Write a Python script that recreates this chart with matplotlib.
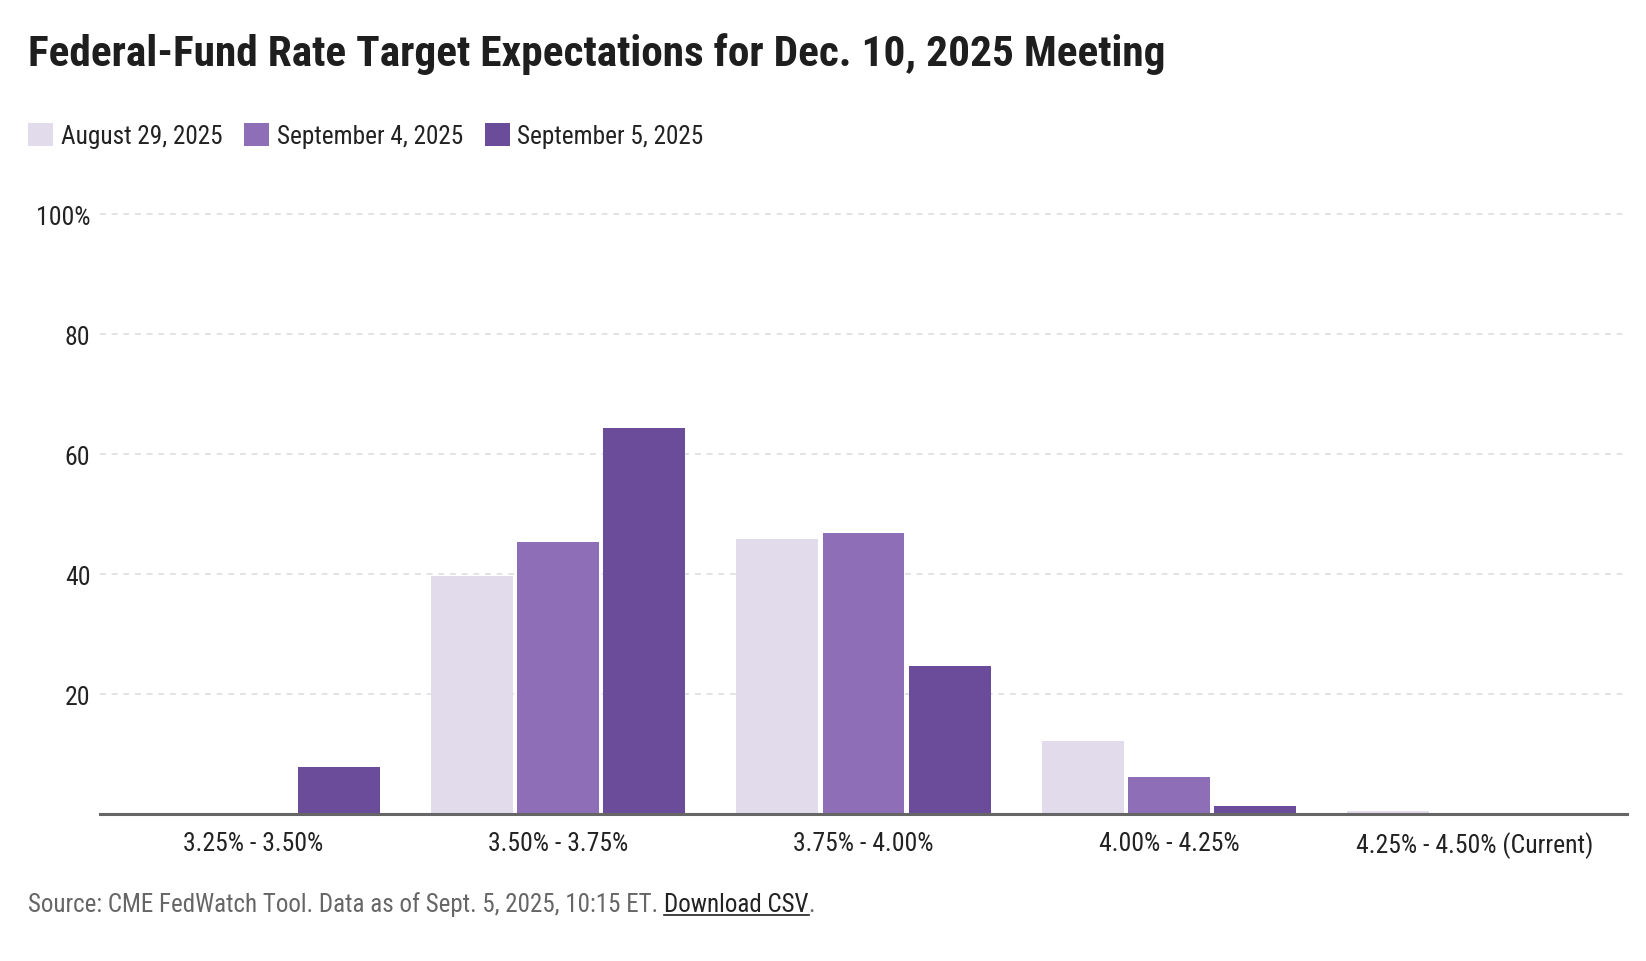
import numpy as np
import matplotlib
matplotlib.use("Agg")
import matplotlib.pyplot as plt
from matplotlib import font_manager
from matplotlib.lines import Line2D
from matplotlib.patches import Patch

# data
categories = ["3.25% - 3.50%", "3.50% - 3.75%", "3.75% - 4.00%",
              "4.00% - 4.25%", "4.25% - 4.50% (Current)"]
aug_29 = [0.0, 39.7, 45.9, 12.2, 0.5]
sep_4 = [0.0, 45.3, 46.9, 6.2, 0.0]
sep_5 = [7.9, 64.3, 24.6, 1.4, 0.0]
series_labels = ["August 29, 2025", "September 4, 2025", "September 5, 2025"]
series_colors = ["#e1dbeb", "#8e6eb7", "#6b4c9b"]
y_ticks = [20, 40, 60, 80, 100]
y_tick_labels = ["20", "40", "60", "80", "100%"]

W, H = 1646, 962


def pick_font():
    """
    Looks for a condensed sans family, falls back to DejaVu Sans
    """
    names = {f.name for f in font_manager.fontManager.ttflist}
    for name in ["Roboto Condensed", "Liberation Sans Narrow",
                 "Open Sans Condensed", "Noto Sans Condensed",
                 "DejaVu Sans Condensed"]:
        if name in names:
            return name, "normal"
    for name in sorted(names):
        if "Condensed" in name or "Narrow" in name:
            return name, "normal"
    return "DejaVu Sans", "condensed"


family, stretch = pick_font()
plt.rcParams["font.family"] = [family, "DejaVu Sans"]
plt.rcParams["font.stretch"] = stretch

fig = plt.figure(figsize=(W / 100, H / 100), dpi=100)
ax = fig.add_axes([100 / W, 1 - 815 / H, 1527 / W, (815 - 213) / H])

x = np.arange(len(categories))
step = 0.282
width = 0.268
all_series = [aug_29, sep_4, sep_5]
for i, (vals, col) in enumerate(zip(all_series, series_colors)):
    ax.bar(x + (i - 1) * step, vals, width=width, color=col, zorder=3)

ax.set_xlim(-0.5, len(categories) - 0.5)
ax.set_ylim(0, 100.4)
ax.set_yticks(y_ticks)
ax.set_yticklabels(y_tick_labels)
ax.set_xticks(x)
ax.set_xticklabels(categories)
ax.tick_params(axis="both", length=0, labelsize=18.5, colors="#222222")
ax.tick_params(axis="y", pad=7)
ax.tick_params(axis="x", pad=12)

ax.yaxis.grid(True, color="#e3e3e3", linewidth=1.4, linestyle=(0, (3, 3)),
              zorder=0)
for side in ["top", "right", "left"]:
    ax.spines[side].set_visible(False)
ax.spines["bottom"].set_color("#666666")
ax.spines["bottom"].set_linewidth(2.2)
ax.spines["bottom"].set_zorder(4)

# title
fig.text(28 / W, 1 - 54 / H,
         "Federal-Fund Rate Target Expectations for Dec. 10, 2025 Meeting",
         fontsize=31.2, fontweight="bold", color="#1e1e1e", va="center")

# legend
handles = [Patch(facecolor=c, edgecolor="none") for c in series_colors]
fig.legend(handles, series_labels, loc="upper left",
           bbox_to_anchor=(28 / W, 1 - 124 / H), ncol=3, frameon=False,
           fontsize=18.2, handlelength=1.0, handleheight=1.0,
           handletextpad=0.3, columnspacing=0.85, borderpad=0,
           borderaxespad=0, labelcolor="#222222")

# source line with underlined link
renderer = fig.canvas.get_renderer()
y_src = 1 - 905 / H
src = fig.text(28 / W, y_src,
               "Source: CME FedWatch Tool. Data as of Sept. 5, 2025, 10:15 ET.",
               fontsize=18, color="#666666", va="center")
bb = src.get_window_extent(renderer)
link = fig.text((bb.x1 + 6) / W, y_src, "Download CSV",
                fontsize=18, color="#222222", va="center")
bb2 = link.get_window_extent(renderer)
fig.text(bb2.x1 / W, y_src, ".", fontsize=18, color="#666666",
         va="center")
fig.add_artist(Line2D([bb2.x0 / W, bb2.x1 / W],
                      [(bb2.y0 + 1) / H, (bb2.y0 + 1) / H],
                      color="#222222", linewidth=1.2))

fig.savefig("out.png", dpi=100)
